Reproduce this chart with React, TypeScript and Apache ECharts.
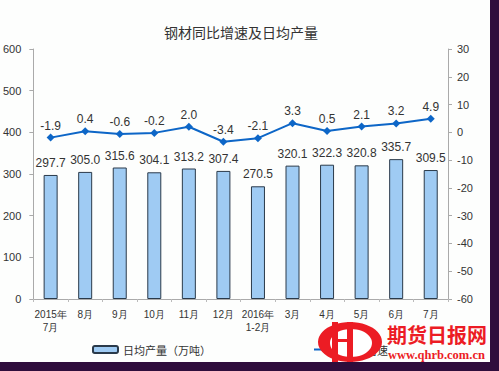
import React, { useEffect, useRef } from "react";
import * as echarts from "echarts";

const categories = ["2015年\n7月", "8月", "9月", "10月", "11月", "12月", "2016年\n1-2月", "3月", "4月", "5月", "6月", "7月"];
const dailyOutput = [297.7, 305.0, 315.6, 304.1, 313.2, 307.4, 270.5, 320.1, 322.3, 320.8, 335.7, 309.5];
const yoyGrowth = [-1.9, 0.4, -0.6, -0.2, 2.0, -3.4, -2.1, 3.3, 0.5, 2.1, 3.2, 4.9];
const barName = "日均产量（万吨）";
const lineName = "同比增速";

export default function App() {
  const ref = useRef<HTMLDivElement>(null);
  useEffect(() => {
    document.body.style.margin = "0";
    const chart = echarts.init(ref.current!, null, { renderer: "svg" });
    const font = "Liberation Sans, Arial, sans-serif";
    const red = "#ec1c24";
    chart.setOption({
      animation: false,
      backgroundColor: "transparent",
      title: {
        text: "钢材同比增速及日均产量",
        left: 236,
        textAlign: "center",
        top: 20,
        textStyle: { fontSize: 14, fontWeight: "normal", color: "#333", fontFamily: "Noto Sans CJK SC" },
      },
      grid: { left: 32, right: 51, top: 49, bottom: 72 },
      legend: [
        {
          data: [barName],
          left: 87,
          top: 339,
          itemWidth: 25,
          itemHeight: 7,
          textStyle: { fontSize: 11, color: "#333", fontFamily: "Noto Sans CJK SC" },
        },
        {
          data: [lineName],
          left: 308,
          top: 339,
          itemWidth: 25,
          itemHeight: 7,
          textStyle: { fontSize: 11, color: "#333", fontFamily: "Noto Sans CJK SC" },
        },
      ],
      xAxis: {
        type: "category",
        data: categories,
        axisLine: { lineStyle: { color: "#aaa", width: 1 } },
        axisTick: { show: true, alignWithLabel: false, length: 3, lineStyle: { color: "#bbb" } },
        axisLabel: { fontSize: 10, color: "#333", margin: 9, lineHeight: 13, interval: 0, fontFamily: font },
      },
      yAxis: [
        {
          type: "value",
          min: 0,
          max: 600,
          interval: 100,
          axisLine: { show: true, lineStyle: { color: "#aaa" } },
          axisTick: { show: true, length: 4, lineStyle: { color: "#aaa" } },
          splitLine: { show: false },
          axisLabel: { fontSize: 11, color: "#333", margin: 12, fontFamily: font },
        },
        {
          type: "value",
          min: -60,
          max: 30,
          interval: 10,
          axisLine: { show: true, lineStyle: { color: "#aaa" } },
          axisTick: { show: true, length: 4, lineStyle: { color: "#aaa" } },
          splitLine: { show: false },
          axisLabel: { fontSize: 11, color: "#333", margin: 9, fontFamily: font },
        },
      ],
      series: [
        {
          name: barName,
          type: "bar",
          data: dailyOutput,
          barWidth: 14,
          itemStyle: { color: "#9fcbf3", borderColor: "#2a3a4a", borderWidth: 1 },
          label: {
            show: true,
            position: "top",
            distance: 6,
            fontSize: 12,
            color: "#333",
            fontFamily: font,
            formatter: (p: any) => p.value.toFixed(1),
          },
        },
        {
          name: lineName,
          type: "line",
          yAxisIndex: 1,
          data: yoyGrowth,
          symbol: "diamond",
          symbolSize: 8,
          lineStyle: { color: "#0d66c7", width: 2 },
          itemStyle: { color: "#0d66c7" },
          label: {
            show: true,
            position: "top",
            distance: 2,
            fontSize: 12,
            color: "#333",
            fontFamily: font,
            formatter: (p: any) => p.value.toFixed(1),
          },
        },
      ],
      graphic: [
        { type: "circle", z: 100, x: 350, y: 342, scaleY: 0.625, shape: { cx: 0, cy: 0, r: 32 }, style: { fill: red } },
        { type: "circle", z: 101, x: 351, y: 343, scaleY: 0.67, shape: { cx: 0, cy: 0, r: 21 }, style: { fill: "#ffffff" } },
        { type: "rect", z: 102, shape: { x: 332, y: 322, width: 6, height: 40 }, style: { fill: red } },
        { type: "rect", z: 102, shape: { x: 347, y: 322, width: 6, height: 40 }, style: { fill: red } },
        { type: "rect", z: 102, shape: { x: 332, y: 339, width: 21, height: 3 }, style: { fill: red } },
        {
          type: "text",
          z: 102,
          x: 387,
          y: 324,
          style: { text: "期货日报网", fontSize: 20, fontWeight: "bold", fill: red, fontFamily: "Noto Sans CJK SC" },
        },
        {
          type: "text",
          z: 102,
          x: 388,
          y: 348,
          style: { text: "www.qhrb.com.cn", fontSize: 12.5, fontWeight: "bold", fill: red, fontFamily: "Liberation Serif, serif" },
        },
      ],
    });
    return () => chart.dispose();
  }, []);
  return (
    <div style={{ position: "relative", width: 499, height: 371, background: "#2f0d3c" }}>
      <div style={{ position: "absolute", left: 0, top: 0, width: 490, height: 362, background: "#fdfefd" }} />
      <div ref={ref} style={{ position: "absolute", left: 0, top: 0, width: 499, height: 371 }} />
    </div>
  );
}
